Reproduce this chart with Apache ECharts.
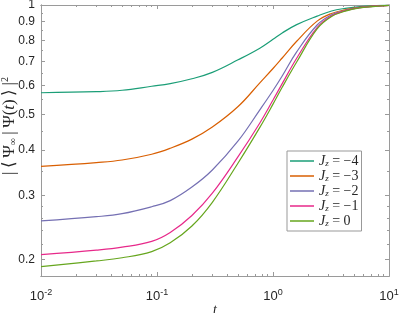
<!DOCTYPE html>
<html>
<head>
<meta charset="utf-8">
<script src="https://cdn.jsdelivr.net/npm/echarts@6/dist/echarts.min.js"></script>
<style>
html,body{margin:0;padding:0;background:#fff;}
#chart{width:399px;height:313px;}
</style>
</head>
<body>
<div id="chart"></div>
<script>
// time samples and overlap values
var tValues = [0.01, 0.03, 0.05, 0.09, 0.13, 0.2, 0.3, 0.5, 0.77, 1.0, 1.2, 1.6, 2.4, 3.2, 4.2, 5.6, 10];
var fidJm4 = [0.574, 0.578, 0.583, 0.598, 0.608, 0.627, 0.653, 0.707, 0.761, 0.805, 0.838, 0.883, 0.932, 0.963, 0.979, 0.990, 0.999];
var fidJm3 = [0.360, 0.369, 0.375, 0.389, 0.404, 0.428, 0.462, 0.526, 0.611, 0.669, 0.715, 0.795, 0.903, 0.948, 0.970, 0.986, 0.998];
var fidJm2 = [0.255, 0.262, 0.267, 0.279, 0.290, 0.316, 0.352, 0.423, 0.515, 0.582, 0.638, 0.743, 0.881, 0.940, 0.966, 0.984, 0.998];
var fidJm1 = [0.206, 0.212, 0.216, 0.224, 0.237, 0.264, 0.304, 0.383, 0.474, 0.548, 0.608, 0.714, 0.867, 0.934, 0.964, 0.983, 0.998];
var fidJ0  = [0.191, 0.198, 0.202, 0.210, 0.222, 0.247, 0.287, 0.368, 0.461, 0.534, 0.594, 0.697, 0.860, 0.930, 0.962, 0.982, 0.998];

var jzLabels = ['−4', '−3', '−2', '−1', '0'];
var colors = ['#1b9e77', '#d95f02', '#7570b3', '#e7298a', '#66a61e'];

var xMajorTicks = [0.01, 0.1, 1, 10];
var xMinorTicks = [0.02, 0.03, 0.04, 0.05, 0.06, 0.07, 0.08, 0.09,
                   0.2, 0.3, 0.4, 0.5, 0.6, 0.7, 0.8, 0.9,
                   2, 3, 4, 5, 6, 7, 8, 9];
var yMajorTicks = [0.2, 0.3, 0.4, 0.5, 0.6, 0.7, 0.8, 0.9, 1];
var yMinorTicks = [0.22, 0.24, 0.26, 0.28, 0.35, 0.45, 0.55, 0.65, 0.75, 0.85, 0.95];

var axisColor = '#9a9a9a';
var labelColor = '#262626';

var chart = echarts.init(document.getElementById('chart'));

function xAx(pos, ticks, len, showLabel, name) {
    return {
        type: 'log', logBase: 10, position: pos, min: 0.01, max: 10,
        name: name || '',
        nameLocation: 'middle', nameGap: 27, nameMoveOverlap: false,
        nameTextStyle: {fontFamily: 'Liberation Serif', fontStyle: 'italic', fontSize: 14, color: labelColor},
        axisLine: {show: true, lineStyle: {color: axisColor, width: 1}},
        axisTick: {show: true, inside: true, length: len, customValues: ticks, lineStyle: {color: axisColor}},
        axisLabel: {
            show: showLabel, customValues: ticks, margin: 12,
            formatter: function (v) {
                var e = Math.round(Math.log10(v));
                return '{b|10}{s|' + e + '}';
            },
            rich: {
                b: {fontFamily: 'Liberation Sans', fontSize: 13, color: labelColor},
                s: {fontFamily: 'Liberation Sans', fontSize: 9, color: labelColor, padding: [0, 0, 8, 0]}
            }
        },
        splitLine: {show: false}
    };
}

function yAx(pos, ticks, len, showLabel, name) {
    return {
        type: 'log', logBase: 10, position: pos, min: 0.18, max: 1,
        name: name || '',
        nameLocation: 'middle', nameGap: 22, nameRotate: 90, nameMoveOverlap: false,
        nameTextStyle: {
            padding: [0, 0, 0, 29],
            rich: {
                n: {fontFamily: 'Liberation Serif', fontSize: 17, color: labelColor},
                i: {fontFamily: 'Liberation Serif', fontStyle: 'italic', fontSize: 17, color: labelColor},
                sub: {fontFamily: 'Liberation Serif', fontSize: 10, color: labelColor, padding: [7, 0, 0, 0]},
                sup: {fontFamily: 'Liberation Serif', fontSize: 10, color: labelColor, padding: [0, 0, 9, 0]}
            }
        },
        axisLine: {show: true, lineStyle: {color: axisColor, width: 1}},
        axisTick: {show: true, inside: true, length: len, customValues: ticks, lineStyle: {color: axisColor}},
        axisLabel: {
            show: showLabel, customValues: ticks, margin: 6,
            fontFamily: 'Liberation Sans', fontSize: 12, color: labelColor,
            formatter: function (v) { return String(Math.round(v * 10) / 10); }
        },
        splitLine: {show: false}
    };
}

var seriesData = [fidJm4, fidJm3, fidJm2, fidJm1, fidJ0];
var series = seriesData.map(function (vals, k) {
    return {
        name: 'Jz' + k,
        type: 'line',
        xAxisIndex: 0, yAxisIndex: 0,
        showSymbol: false, symbol: 'none',
        smooth: 0.4,
        lineStyle: {color: colors[k], width: 1.2},
        itemStyle: {color: colors[k]},
        data: tValues.map(function (t, i) { return [t, vals[i]]; })
    };
});

var yName = '{n|\u007C\u2009\u27E8\u2009\u03A8}{sub|\u221E}{n|\u2009\u007C\u2009\u03A8(}{i|t}{n|)\u2009\u27E9\u2009\u007C}{sup|2}';

chart.setOption({
    animation: false,
    backgroundColor: '#fff',
    grid: {left: 41, right: 10, top: 5, bottom: 37, outerBoundsMode: 'none', containLabel: false},
    xAxis: [
        xAx('bottom', xMajorTicks, 4, true, 't'),
        xAx('bottom', xMinorTicks, 2, false),
        xAx('top', xMajorTicks, 4, false),
        xAx('top', xMinorTicks, 2, false)
    ],
    yAxis: [
        yAx('left', yMajorTicks, 4, true, yName),
        yAx('left', yMinorTicks, 2, false),
        yAx('right', yMajorTicks, 4, false),
        yAx('right', yMinorTicks, 2, false)
    ],
    legend: {
        orient: 'vertical', left: 287, top: 151,
        padding: [3, 3, 3, 3], itemGap: 1,
        backgroundColor: '#fff',
        borderColor: '#999', borderWidth: 1,
        icon: 'rect', itemWidth: 24, itemHeight: 1.5,
        data: series.map(function (s) { return s.name; }),
        formatter: function (name) {
            var k = parseInt(name.slice(2), 10);
            return '{i|J}{s|z}{n| = ' + jzLabels[k] + '}';
        },
        textStyle: {
            rich: {
                i: {fontFamily: 'Liberation Serif', fontStyle: 'italic', fontSize: 14, color: labelColor},
                s: {fontFamily: 'Liberation Serif', fontStyle: 'italic', fontSize: 9, color: labelColor, padding: [5, 0, 0, 0]},
                n: {fontFamily: 'Liberation Serif', fontSize: 14, color: labelColor}
            }
        }
    },
    series: series
});
</script>
</body>
</html>
